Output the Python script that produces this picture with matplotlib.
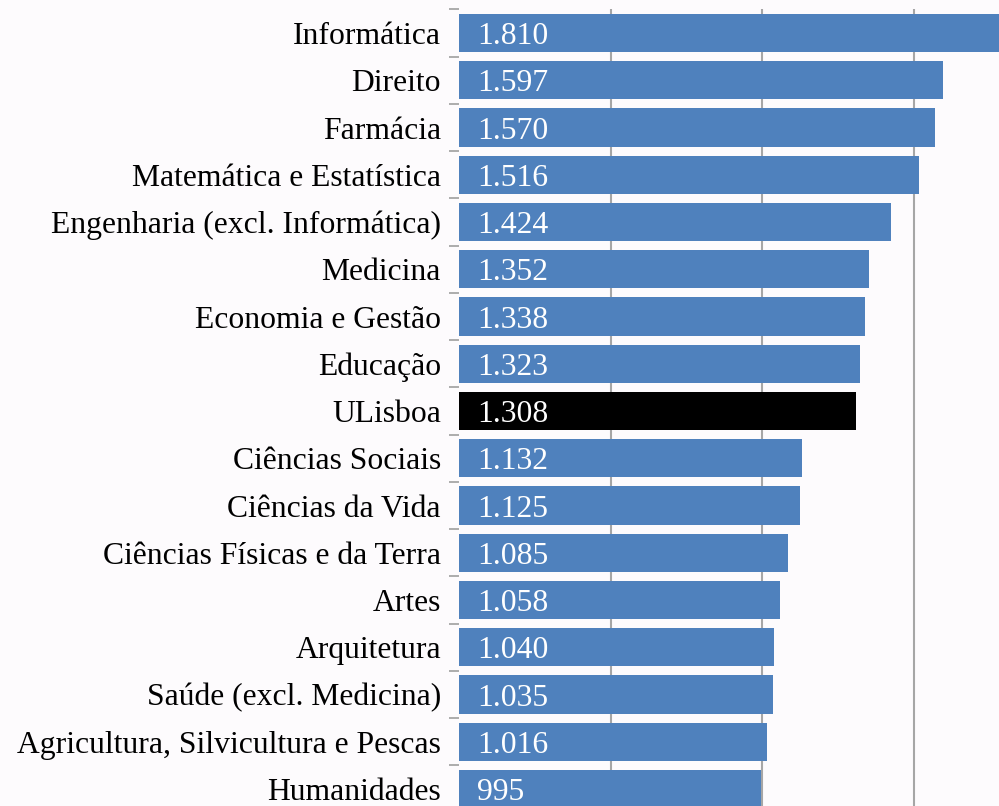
import matplotlib
matplotlib.use("Agg")
import matplotlib.pyplot as plt
import numpy as np

categories = [
    "Informática",
    "Direito",
    "Farmácia",
    "Matemática e Estatística",
    "Engenharia (excl. Informática)",
    "Medicina",
    "Economia e Gestão",
    "Educação",
    "ULisboa",
    "Ciências Sociais",
    "Ciências da Vida",
    "Ciências Físicas e da Terra",
    "Artes",
    "Arquitetura",
    "Saúde (excl. Medicina)",
    "Agricultura, Silvicultura e Pescas",
    "Humanidades",
]
values = [1810, 1597, 1570, 1516, 1424, 1352, 1338, 1323, 1308,
          1132, 1125, 1085, 1058, 1040, 1035, 1016, 995]
highlight = "ULisboa"

BLUE = "#4F81BD"
BG = "#FDFBFD"
GRID = "#A6A6A6"

plt.rcParams["font.family"] = ["Liberation Serif", "DejaVu Serif"]

W, H = 999, 806
fig = plt.figure(figsize=(W / 100, H / 100), dpi=100, facecolor=BG)
n = len(categories)
top_px, step_px = 9.4, 47.25
ax_h = n * step_px
ax = fig.add_axes([459 / W, 1 - (top_px + ax_h) / H, 1 - 459 / W, ax_h / H])
ax.set_facecolor(BG)

y = np.arange(n)
colors = ["black" if c == highlight else BLUE for c in categories]
ax.barh(y, values, height=0.81, color=colors, zorder=2)

ax.set_xlim(0, 1781)
ax.set_ylim(n - 0.5, -0.5)
ax.set_xticks([500, 1000, 1500])
ax.xaxis.grid(True, color=GRID, linewidth=1.5, zorder=0)
ax.tick_params(axis="x", length=0, labelbottom=False)

ax.set_yticks(y)
ax.set_yticklabels(categories, fontsize=22.8, va="center_baseline")
ax.tick_params(axis="y", which="major", length=0, pad=13)
ax.set_yticks(np.arange(n + 1) - 0.5, minor=True)
ax.tick_params(axis="y", which="minor", length=7.5, width=1.3, color=GRID)

for s in ax.spines.values():
    s.set_visible(False)

for i, v in enumerate(values):
    label = f"{v:,}".replace(",", ".")
    ax.annotate(label, xy=(0, i), xytext=(18, 0), textcoords="offset pixels",
                ha="left", va="center_baseline", color="white", fontsize=22.8,
                zorder=3)

fig.savefig("out.png", dpi=100, facecolor=BG)
